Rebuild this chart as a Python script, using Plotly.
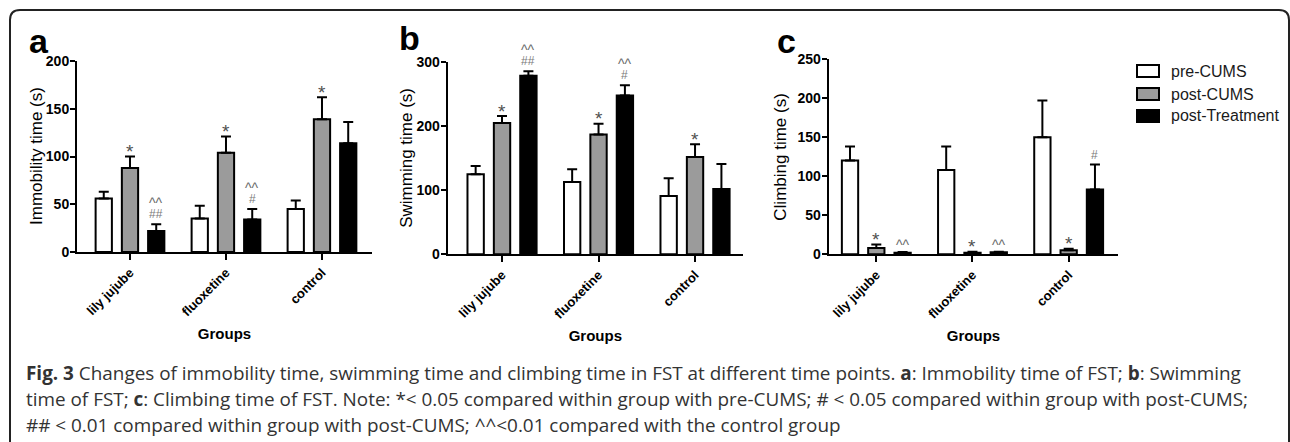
import plotly.graph_objects as go

W, H = 1290, 442

groups = ["lily jujube", "fluoxetine", "control"]
series_names = ["pre-CUMS", "post-CUMS", "post-Treatment"]
series_colors = ["#ffffff", "#9b9b9b", "#000000"]

# Panel a: Immobility time (s)
immob_pre = [56, 35, 45]
immob_pre_err = [7, 13.5, 9]
immob_post = [88, 104, 139]
immob_post_err = [12, 17, 23]
immob_treat = [22, 34, 114]
immob_treat_err = [7, 11, 22]

# Panel b: Swimming time (s)
swim_pre = [125, 113, 91]
swim_pre_err = [13, 20, 28]
swim_post = [205, 187, 152]
swim_post_err = [11, 17, 20]
swim_treat = [279, 248, 102]
swim_treat_err = [7, 16, 39]

# Panel c: Climbing time (s)
climb_pre = [120, 108, 150]
climb_pre_err = [18, 30, 47]
climb_post = [8, 2, 5]
climb_post_err = [4.5, 1, 2]
climb_treat = [2, 2.5, 83]
climb_treat_err = [0.8, 0.8, 32]

# significance marks (per series, per group): lower line and upper line
immob_marks_low = [["", "", ""], ["*", "*", "*"], ["##", "#", ""]]
immob_marks_up = [["", "", ""], ["", "", ""], ["^^", "^^", ""]]
swim_marks_low = [["", "", ""], ["*", "*", "*"], ["##", "#", ""]]
swim_marks_up = [["", "", ""], ["", "", ""], ["^^", "^^", ""]]
climb_marks_low = [["", "", ""], ["*", "*", "*"], ["^^", "^^", "#"]]
climb_marks_up = [["", "", ""], ["", "", ""], ["", "", ""]]

y_titles = ["Immobility time (s)", "Swimming time (s)", "Climbing time (s)"]
panel_letters = ["a", "b", "c"]
y_ranges = [[0, 200], [0, 300], [0, 250]]
y_dticks = [50, 100, 50]
x_title = "Groups"

caption_lines = [
    "<b>Fig. 3</b> Changes of immobility time, swimming time and climbing time in FST at different time points. <b>a</b>: Immobility time of FST; <b>b</b>: Swimming",
    "time of FST; <b>c</b>: Climbing time of FST. Note: *&lt; 0.05 compared within group with pre-CUMS; # &lt; 0.05 compared within group with post-CUMS;",
    "## &lt; 0.01 compared within group with post-CUMS; ^^&lt;0.01 compared with the control group",
]

panels = [
    dict(vals=[immob_pre, immob_post, immob_treat],
         errs=[immob_pre_err, immob_post_err, immob_treat_err],
         low=immob_marks_low, up=immob_marks_up),
    dict(vals=[swim_pre, swim_post, swim_treat],
         errs=[swim_pre_err, swim_post_err, swim_treat_err],
         low=swim_marks_low, up=swim_marks_up),
    dict(vals=[climb_pre, climb_post, climb_treat],
         errs=[climb_pre_err, climb_post_err, climb_treat_err],
         low=climb_marks_low, up=climb_marks_up),
]

# layout geometry (pixels)
x_px = [(77, 372), (447.7, 743), (828.6, 1118.4)]
y_px = [(252, 61), (254.3, 62.3), (254.2, 59.2)]
x_ranges = [[-0.552, 2.521], [-0.563, 2.497], [-0.496, 2.517]]
ytitle_x = [36.5, 406.5, 781]
bargap = 0.18
bargroupgap = 0.38

FONT = "Liberation Sans, Arial, sans-serif"

fig = go.Figure()
annotations = []
shapes = []

slot = (1 - bargap) / 3.0
for p, panel in enumerate(panels):
    xa = "x" if p == 0 else f"x{p+1}"
    ya = "y" if p == 0 else f"y{p+1}"
    for s in range(3):
        fig.add_trace(go.Bar(
            x=groups, y=panel["vals"][s], name=series_names[s],
            marker=dict(color=series_colors[s], line=dict(color="#000000", width=2)),
            error_y=dict(type="data", symmetric=False, array=panel["errs"][s],
                         arrayminus=[0, 0, 0], color="#000000", thickness=2, width=5),
            xaxis=xa, yaxis=ya, showlegend=False,
        ))
        for g in range(3):
            top = panel["vals"][s][g] + panel["errs"][s][g]
            xpos = g + (s - 1) * slot
            lo = panel["low"][s][g]
            upm = panel["up"][s][g]
            for mark, base in ((lo, 10), (upm, 24)):
                if not mark:
                    continue
                if "#" in mark:
                    size, col, shift = 12, "#7a7a7a", base
                elif "^" in mark:
                    size, col, shift = 14, "#6a6a6a", base - 3
                else:
                    size, col, shift = 19, "#505050", base - 5
                annotations.append(dict(
                    x=xpos, y=top, xref=xa, yref=ya, text=mark, showarrow=False,
                    yanchor="middle", xanchor="center", yshift=shift,
                    font=dict(family=FONT, size=size, color=col)))

    key = "" if p == 0 else str(p + 1)
    x0, x1 = x_px[p]
    yb, yt = y_px[p]
    fig.layout[f"xaxis{key}"] = dict(
        domain=[x0 / W, x1 / W], anchor=ya, range=x_ranges[p], type="category",
        showline=True, linecolor="#000", linewidth=2, ticks="outside", ticklen=6,
        tickwidth=2, tickcolor="#000", tickangle=-45, showgrid=False, zeroline=False,
        tickfont=dict(family=FONT, size=13, color="#000", weight="bold"),
        title=dict(text=x_title, standoff=10,
                   font=dict(family=FONT, size=15, color="#000", weight="bold")),
        automargin=False, fixedrange=True)
    fig.layout[f"yaxis{key}"] = dict(
        domain=[1 - yb / H, 1 - yt / H], anchor=xa, range=y_ranges[p], dtick=y_dticks[p],
        showline=True, linecolor="#000", linewidth=2, ticks="outside", ticklen=5,
        tickwidth=2, tickcolor="#000", showgrid=False, zeroline=False,
        ticklabelstandoff=-2,
        tickfont=dict(family=FONT, size=14, color="#000", weight="bold"),
        automargin=False, fixedrange=True)
    # y-axis title placed precisely as rotated text
    annotations.append(dict(
        x=ytitle_x[p] / W, y=1 - (yb + yt) / 2 / H, xref="paper", yref="paper",
        text=y_titles[p], textangle=-90, showarrow=False,
        xanchor="center", yanchor="middle",
        font=dict(family=FONT, size=17, color="#000")))

# panel letters
letter_pos = [(27, 41), (397, 38), (775, 41)]
for p in range(3):
    lx, ly = letter_pos[p]
    annotations.append(dict(
        x=lx / W, y=1 - ly / H, xref="paper", yref="paper", text=f"<b>{panel_letters[p]}</b>",
        showarrow=False, xanchor="left", yanchor="middle",
        font=dict(family=FONT, size=34, color="#000")))

# legend (manual, styled like the reference)
leg_rows = [71, 94, 116]
for s in range(3):
    cy = leg_rows[s]
    shapes.append(dict(type="rect", xref="paper", yref="paper",
                       x0=1137 / W, x1=1159 / W, y0=1 - (cy - 6) / H, y1=1 - (cy + 6) / H,
                       fillcolor=series_colors[s], line=dict(color="#000", width=2)))
    annotations.append(dict(
        x=1169 / W, y=1 - cy / H, xref="paper", yref="paper", text=series_names[s],
        showarrow=False, xanchor="left", yanchor="middle",
        font=dict(family=FONT, size=16, color="#1a1a1a")))

# caption
cap_y = [373, 399, 425]
for i, line in enumerate(caption_lines):
    annotations.append(dict(
        x=24 / W, y=1 - cap_y[i] / H, xref="paper", yref="paper", text=line,
        showarrow=False, xanchor="left", yanchor="middle",
        font=dict(family="Open Sans, sans-serif", size=18.9, color="#333")))

# rounded figure frame
xl, xr = 10 / W, 1289 / W
yt_ = 1 - 10 / H
rx, ry = 10 / W, 10 / H
path = (f"M {xl},{-0.1} L {xl},{yt_ - ry} Q {xl},{yt_} {xl + rx},{yt_} "
        f"L {xr - rx},{yt_} Q {xr},{yt_} {xr},{yt_ - ry} L {xr},{-0.1}")
shapes.append(dict(type="path", xref="paper", yref="paper", path=path,
                   line=dict(color="#222", width=2)))

fig.update_layout(
    width=W, height=H, margin=dict(l=0, r=0, t=0, b=0),
    paper_bgcolor="#ffffff", plot_bgcolor="#ffffff",
    barmode="group", bargap=bargap, bargroupgap=bargroupgap,
    showlegend=False, annotations=annotations, shapes=shapes,
    template="none",
)

fig.write_html("out.html")
